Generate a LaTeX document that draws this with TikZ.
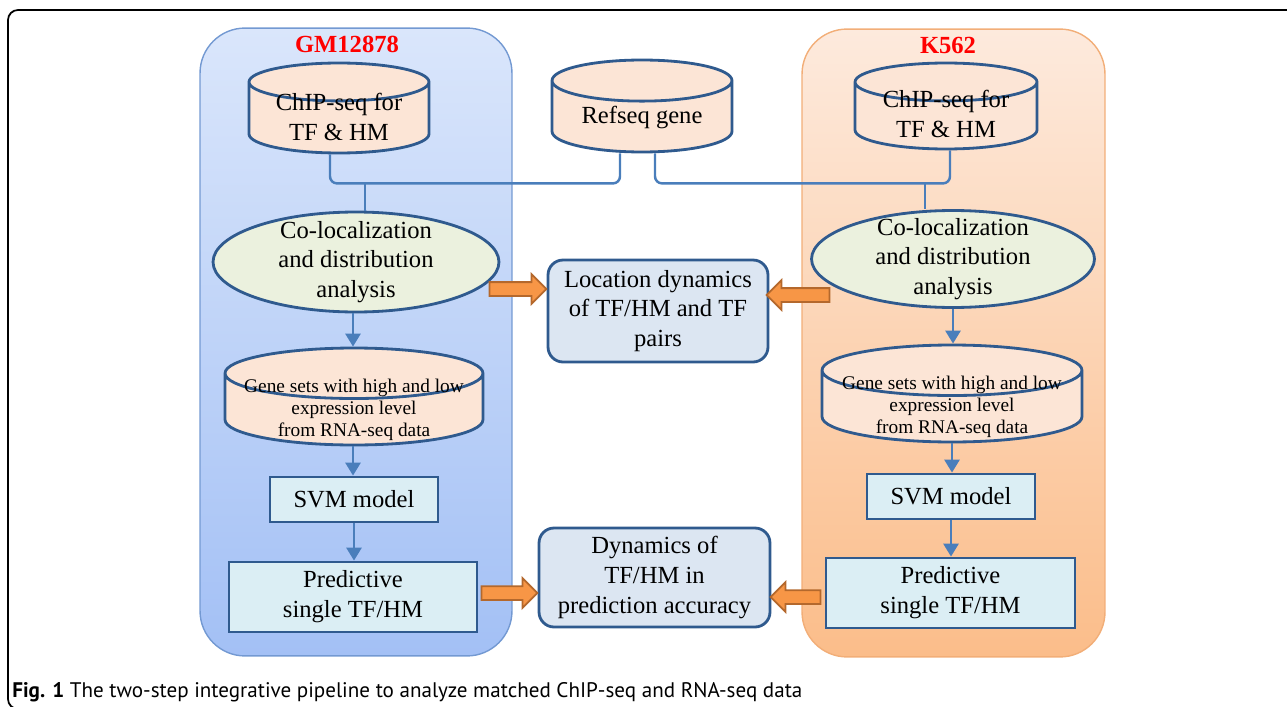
\documentclass[tikz,border=0pt]{standalone}
\usepackage{fontspec}
\setmainfont{Liberation Serif}
\newfontfamily\capfont{PT Sans}
\usetikzlibrary{shapes.geometric,shapes.arrows,arrows.meta,calc}

\definecolor{dbblue}{HTML}{2F5A8E}
\definecolor{linkblue}{HTML}{4A7EBB}
\definecolor{peach}{HTML}{FCE5D6}
\definecolor{palegreen}{HTML}{EBF1DE}
\definecolor{paleaqua}{HTML}{DBEEF4}
\definecolor{paleblue}{HTML}{DCE6F2}
\definecolor{arroworange}{HTML}{F79646}
\definecolor{arrowedge}{HTML}{B4682C}
\definecolor{gmtop}{HTML}{DAE6FB}
\definecolor{gmbottom}{HTML}{A3C0F5}
\definecolor{gmedge}{HTML}{7399D2}
\definecolor{ktop}{HTML}{FDEADD}
\definecolor{kbottom}{HTML}{FBBD8A}
\definecolor{kedge}{HTML}{F2AE78}

% text that does not size the cylinder
\newcommand{\dbtext}[2][0pt]{\raisebox{#1}[0pt][0pt]{\begin{tabular}{@{}c@{}}#2\end{tabular}}}

\tikzset{
  panel/.style={rectangle, rounded corners=0.9cm, line width=0.8pt},
  title/.style={font=\fontsize{14}{17}\selectfont\bfseries, text=red},
  db/.style={cylinder, shape border rotate=90, aspect=0.3, draw=dbblue,
    line width=1.6pt, fill=peach, inner sep=0pt, anchor=shape center},
  oval/.style={ellipse, draw=dbblue, line width=1.6pt, fill=palegreen,
    align=center, inner sep=0pt, inner ysep=-0.25cm},
  stepbox/.style={rectangle, draw=dbblue, line width=1.6pt, fill=paleaqua,
    align=center, inner sep=0.1cm},
  resultbox/.style={rectangle, rounded corners=0.3cm, draw=dbblue,
    line width=1.6pt, fill=paleblue, align=center, inner sep=0.1cm},
  link/.style={draw=linkblue, line width=1.4pt, rounded corners=0.14cm},
  flow/.style={draw=linkblue, line width=1.6pt,
    -{Triangle[length=0.26cm,width=0.3cm]}},
  bigarrow/.style={single arrow, draw=arrowedge, fill=arroworange,
    line width=1pt, inner xsep=0pt, inner ysep=0.12cm,
    single arrow head extend=0.16cm},
}

\begin{document}
\begin{tikzpicture}[x=0.02cm, y=-0.02cm,
    every node/.style={font=\fontsize{14}{17}\selectfont}]
  \useasboundingbox (0,0) rectangle (1287,706);
  \clip (0,0) rectangle (1287,706);

  % outer frame
  \draw[line width=1pt, rounded corners=0.2cm] (1300,10) -- (8,10) -- (8,709) -- (1300,709);

  % cell line panels
  \node[panel, draw=gmedge, top color=gmtop, bottom color=gmbottom,
    minimum width=6.24cm, minimum height=12.56cm] (gm) at (356,342) {};
  \node[panel, draw=kedge, top color=ktop, bottom color=kbottom,
    minimum width=6.06cm, minimum height=12.56cm] (k) at (953.5,343) {};
  \node[title] (gmtitle) at (347,44) {GM12878};
  \node[title] (ktitle) at (948,45) {K562};

  % data
  \node[db, minimum width=3.6cm, minimum height=1.8cm] (chipL) at (339,108) {\dbtext[-0.16cm]{ChIP-seq for\\TF \& HM}};
  \node[db, aspect=0.34, minimum width=3.6cm, minimum height=1.84cm] (refseq) at (642,106) {\dbtext[-0.14cm]{Refseq gene}};
  \node[db, minimum width=3.64cm, minimum height=1.72cm] (chipR) at (946,106) {\dbtext[-0.14cm]{ChIP-seq for\\TF \& HM}};

  % analysis
  \node[oval, minimum width=5.72cm, minimum height=2cm] (colL) at (356,262) {Co-localization\\and distribution\\analysis};
  \node[oval, minimum width=5.66cm, minimum height=1.94cm] (colR) at (953,259) {Co-localization\\and distribution\\analysis};

  \node[db, aspect=0.23, font=\fontsize{11}{12.5}\selectfont, minimum width=5.16cm, minimum height=1.94cm] (geneL) at (354,396.5)
    {\dbtext[-0.11cm]{Gene sets with high and low\\expression level\\from RNA-seq data}};
  \node[db, aspect=0.23, font=\fontsize{11}{12.5}\selectfont, minimum width=5.2cm, minimum height=1.94cm] (geneR) at (952,393.5)
    {\dbtext[-0.11cm]{Gene sets with high and low\\expression level\\from RNA-seq data}};

  \node[stepbox, minimum width=3.36cm, minimum height=0.9cm] (svmL) at (354,499.5) {SVM model};
  \node[stepbox, minimum width=3.36cm, minimum height=0.9cm] (svmR) at (951,496.5) {SVM model};
  \node[stepbox, minimum width=4.96cm, minimum height=1.4cm] (predL) at (353,597) {Predictive\\single TF/HM};
  \node[stepbox, minimum width=4.98cm, minimum height=1.4cm] (predR) at (950.5,593) {Predictive\\single TF/HM};

  % results
  \node[resultbox, minimum width=4.4cm, minimum height=2.04cm] (loc) at (658,311) {Location dynamics\\of TF/HM and TF\\pairs};
  \node[resultbox, minimum width=4.62cm, minimum height=1.98cm] (dyn) at (654.5,577.5) {Dynamics of\\TF/HM in\\prediction accuracy};

  % brace links
  \coordinate (tipL) at (365,182);
  \coordinate (tipR) at (925,182);
  \draw[link] ($(chipL.south)+(-9,0)$) |- ($(refseq.south)+(-22,30)$) -- ($(refseq.south)+(-22,0)$);
  \draw[link] ($(refseq.south)+(13,0)$) |- ($(chipR.south)+(4,33)$) -- ($(chipR.south)+(4,0)$);
  \draw[link] (tipL) -- (tipL |- colL.north);
  \draw[link] (tipR) -- (tipR |- colR.north);

  % pipeline
  \draw[flow] ($(colL.south)+(-3,0)$) -- ($(colL.south |- geneL.north)+(-3,0)$);
  \draw[flow] ($(geneL.south)+(-1,0)$) -- ($(geneL.south |- svmL.north)+(-1,0)$);
  \draw[flow] (svmL.south) -- (svmL.south |- predL.north);
  \draw[flow] (colR.south) -- (colR.south |- geneR.north);
  \draw[flow] (geneR.south) -- (geneR.south |- svmR.north);
  \draw[flow] (svmR.south) -- (svmR.south |- predR.north);

  % block arrows
  \node[bigarrow, minimum height=1.14cm] (a1) at (514.5,289) {};
  \node[bigarrow, shape border rotate=180, minimum height=1.26cm] (a2) at (801.5,295) {};
  \node[bigarrow, minimum height=1.12cm] (a3) at (506,593) {};
  \node[bigarrow, shape border rotate=180, minimum height=1cm] (a4) at (799,597) {};

  % caption
  \node[anchor=base west, inner sep=0pt, font=\capfont\fontsize{12}{14}\selectfont] (cap) at (12,697)
    {\textbf{Fig. 1} The two-step integrative pipeline to analyze matched ChIP-seq and RNA-seq data};
\end{tikzpicture}
\end{document}
